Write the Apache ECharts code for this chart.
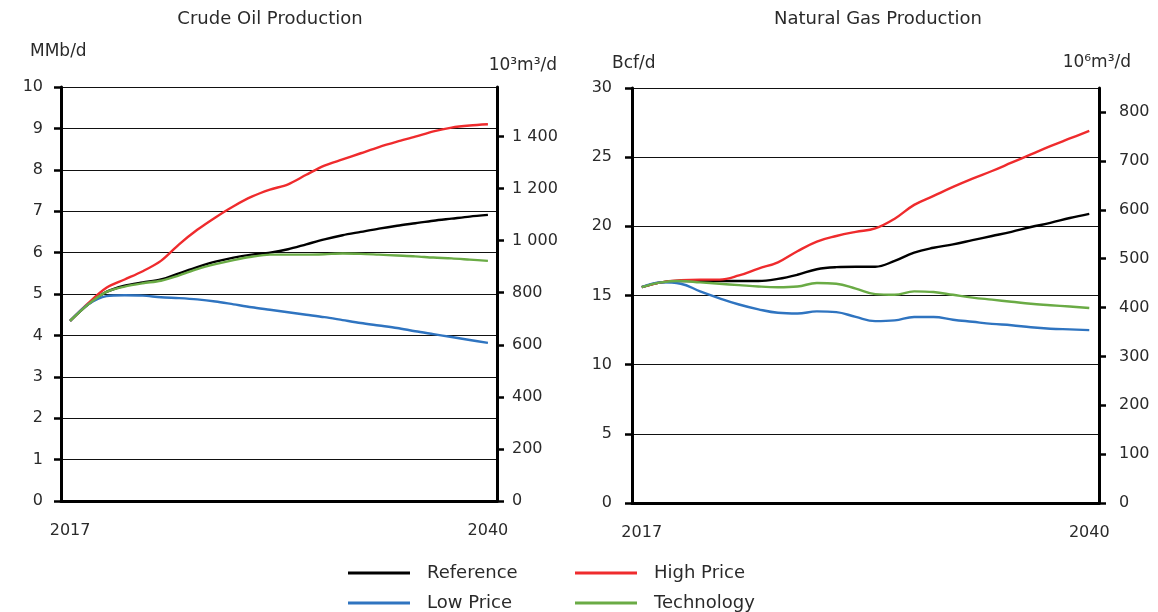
<!DOCTYPE html>
<html>
<head>
<meta charset="utf-8">
<script src="https://cdn.jsdelivr.net/npm/echarts@6/dist/echarts.min.js"></script>
<style>
html,body{margin:0;padding:0;background:#fff;}
#chart{width:1158px;height:612px;}
</style>
</head>
<body>
<div id="chart"></div>
<script>
const years = ['2017','2018','2019','2020','2021','2022','2023','2024','2025','2026','2027','2028',
               '2029','2030','2031','2032','2033','2034','2035','2036','2037','2038','2039','2040'];

// Crude oil production, MMb/d
const oilReference  = [4.35,4.75,5.05,5.2,5.28,5.35,5.5,5.65,5.78,5.88,5.95,6.0,6.08,6.2,6.32,6.42,6.5,6.58,6.65,6.71,6.77,6.82,6.87,6.91];
const oilHighPrice  = [4.35,4.78,5.15,5.35,5.55,5.8,6.2,6.55,6.85,7.12,7.35,7.52,7.65,7.88,8.1,8.25,8.4,8.55,8.68,8.8,8.93,9.02,9.07,9.1];
const oilLowPrice   = [4.35,4.75,4.95,4.97,4.96,4.92,4.9,4.87,4.82,4.75,4.68,4.62,4.56,4.5,4.44,4.37,4.3,4.24,4.18,4.1,4.03,3.96,3.89,3.82];
const oilTechnology = [4.35,4.75,5.05,5.18,5.26,5.32,5.45,5.6,5.72,5.82,5.9,5.95,5.95,5.95,5.96,5.98,5.97,5.95,5.93,5.91,5.88,5.86,5.83,5.8];

// Natural gas production, Bcf/d
const gasReference  = [15.6,15.95,16.05,16.05,16.05,16.05,16.05,16.2,16.5,16.9,17.05,17.08,17.08,17.5,18.1,18.45,18.7,19.0,19.3,19.6,19.95,20.25,20.6,20.9];
const gasHighPrice  = [15.6,15.95,16.1,16.15,16.15,16.45,16.95,17.4,18.2,18.9,19.3,19.6,19.85,20.55,21.55,22.2,22.85,23.45,24.0,24.6,25.2,25.8,26.35,26.9];
const gasLowPrice   = [15.6,15.95,15.85,15.3,14.8,14.35,14.0,13.75,13.7,13.85,13.8,13.45,13.15,13.2,13.45,13.45,13.25,13.1,12.95,12.85,12.7,12.6,12.55,12.5];
const gasTechnology = [15.6,15.95,16.05,15.95,15.85,15.75,15.65,15.6,15.65,15.9,15.85,15.5,15.1,15.05,15.3,15.25,15.05,14.85,14.7,14.55,14.4,14.3,14.2,14.1];

const oilRightTicks = [0,200,400,600,800,1000,1200,1400];
const gasRightTicks = [0,100,200,300,400,500,600,700,800];

const seriesNames = ['Reference','High Price','Low Price','Technology'];
const seriesColors = ['#000000','#ef2b2d','#2f74c0','#6aab45'];

const FONT = 'DejaVu Sans';
const TXT = '#2a2a2a';

function fmtThousands(v){
  if (v >= 1000) { const r = v % 1000; return Math.floor(v/1000) + ' ' + String(r).padStart(3,'0'); }
  return String(v);
}

const chart = echarts.init(document.getElementById('chart'), null, {renderer:'canvas'});

function xAxisCfg(grid){
  return {
    type:'category', gridIndex:grid, data:years, boundaryGap:true,
    axisLine:{show:true, lineStyle:{color:'#000', width:3}},
    axisTick:{show:false},
    axisLabel:{interval:function(i){return i===0||i===years.length-1;}, margin:22, color:TXT, fontFamily:FONT, fontSize:16},
    splitLine:{show:false}
  };
}
function leftAxisCfg(grid,max,interval,margin){
  return {
    type:'value', gridIndex:grid, position:'left', min:0, max:max, interval:interval,
    axisLine:{show:true, onZero:false, lineStyle:{color:'#000', width:3}},
    axisTick:{show:true, length:7, lineStyle:{color:'#000', width:2.5}},
    axisLabel:{margin:margin, color:TXT, fontFamily:FONT, fontSize:16},
    splitLine:{show:true, lineStyle:{color:'#111', width:1.2}}
  };
}
function rightAxisCfg(grid,max,ticks,margin){
  return {
    type:'value', gridIndex:grid, position:'right', min:0, max:max,
    axisLine:{show:true, onZero:false, lineStyle:{color:'#000', width:3}},
    axisTick:{show:true, length:7, customValues:ticks, lineStyle:{color:'#000', width:2.5}},
    axisLabel:{margin:margin, customValues:ticks, formatter:function(v){return fmtThousands(Math.round(v));}, color:TXT, fontFamily:FONT, fontSize:16},
    splitLine:{show:false}
  };
}

const oilData = [oilReference, oilHighPrice, oilLowPrice, oilTechnology];
const gasData = [gasReference, gasHighPrice, gasLowPrice, gasTechnology];
const series = [];
seriesNames.forEach(function(n,i){
  series.push({name:n, type:'line', xAxisIndex:0, yAxisIndex:0, data:oilData[i], smooth:0.3, symbol:'none',
    lineStyle:{color:seriesColors[i], width:2.4}, itemStyle:{color:seriesColors[i]}});
});
seriesNames.forEach(function(n,i){
  series.push({name:n, type:'line', xAxisIndex:1, yAxisIndex:2, data:gasData[i], smooth:0.4, symbol:'none',
    lineStyle:{color:seriesColors[i], width:2.4}, itemStyle:{color:seriesColors[i]}});
});

const legendPos = [[343,559],[570,559],[343,589],[570,589]];
const legends = seriesNames.map(function(n,i){
  return {data:[n], left:legendPos[i][0], top:legendPos[i][1], icon:'rect', itemWidth:62, itemHeight:3,
    textStyle:{color:TXT, fontFamily:FONT, fontSize:18, padding:[0,0,0,12]}};
});

function txt(x,y,t,align,size){
  return {type:'text', x:x, y:y, style:{text:t, textAlign:align, textVerticalAlign:'middle', fill:TXT, font:size+'px "'+FONT+'"'}};
}

chart.setOption({
  animation:false,
  backgroundColor:'#ffffff',
  grid:[{left:61, right:661, top:87, bottom:111}, {left:632, right:59, top:88, bottom:109}],
  xAxis:[xAxisCfg(0), xAxisCfg(1)],
  yAxis:[leftAxisCfg(0,10,1,18), rightAxisCfg(0,1589.87,oilRightTicks,15), leftAxisCfg(1,30,5,20), rightAxisCfg(1,849.5,gasRightTicks,20)],
  legend:legends,
  series:series,
  graphic:[
    txt(270,19,'Crude Oil Production','center',18),
    txt(878,19,'Natural Gas Production','center',18),
    txt(30,52,'MMb/d','left',17),
    txt(557,66,'10³m³/d','right',17),
    txt(612,64,'Bcf/d','left',17),
    txt(1131,63,'10⁶m³/d','right',17)
  ]
});
</script>
</body>
</html>
